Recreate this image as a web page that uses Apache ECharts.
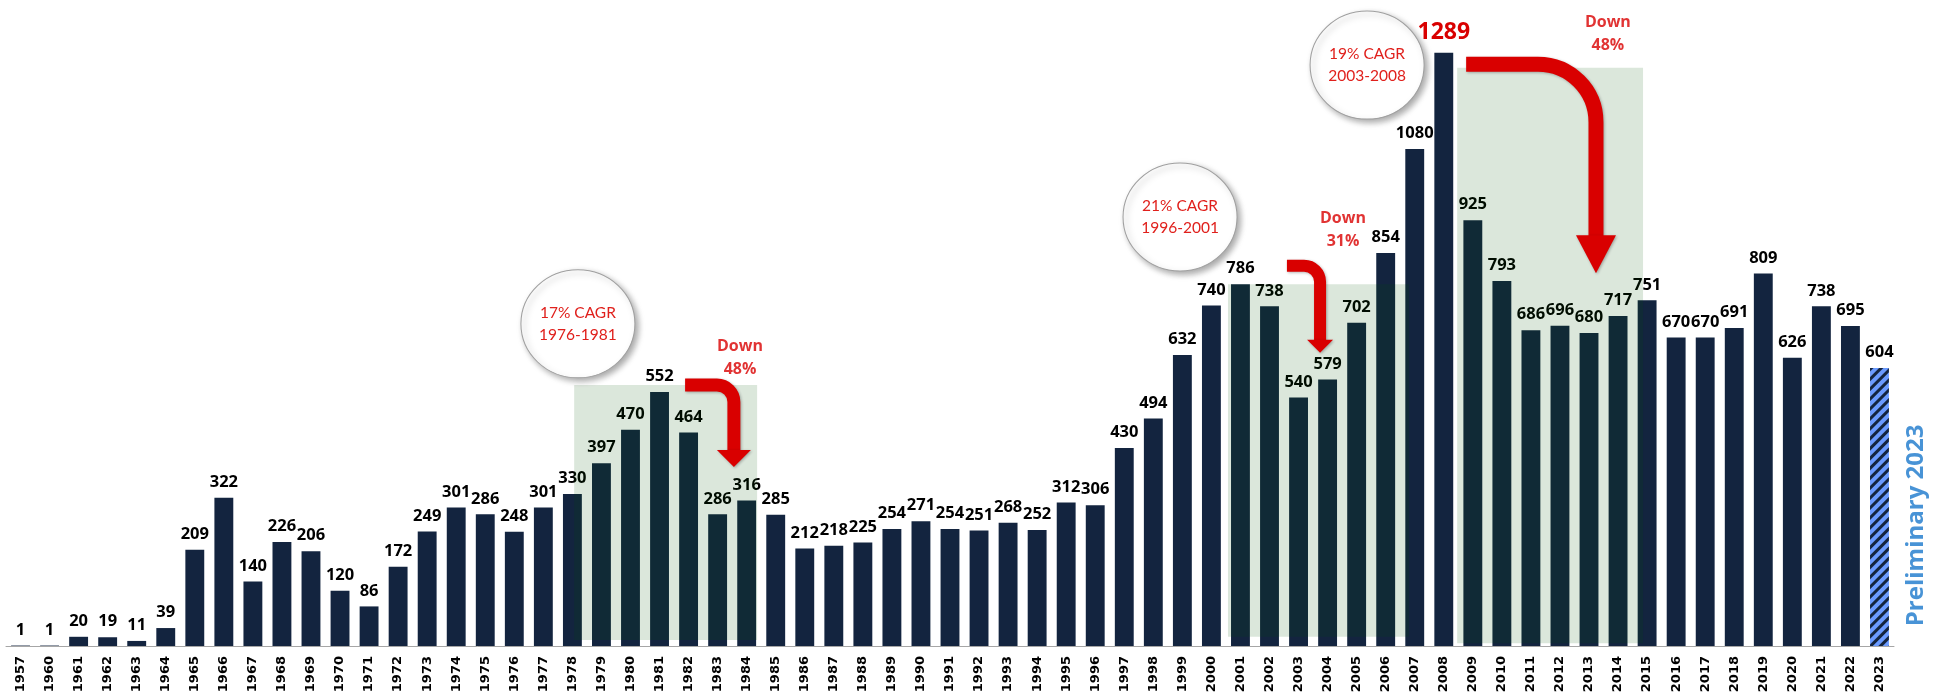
<!DOCTYPE html>
<html>
<head>
<meta charset="utf-8">
<script src="https://cdn.jsdelivr.net/npm/echarts@6/dist/echarts.min.js"></script>
<style>
  html, body { margin: 0; padding: 0; background: #fff; }
  #chart { width: 1944px; height: 700px; }
</style>
</head>
<body>
<div id="chart"></div>
<script>
// categories + counts
const years = ['1957', '1960', '1961', '1962', '1963', '1964', '1965', '1966', '1967', '1968',
  '1969', '1970', '1971', '1972', '1973', '1974', '1975', '1976', '1977', '1978',
  '1979', '1980', '1981', '1982', '1983', '1984', '1985', '1986', '1987', '1988',
  '1989', '1990', '1991', '1992', '1993', '1994', '1995', '1996', '1997', '1998',
  '1999', '2000', '2001', '2002', '2003', '2004', '2005', '2006', '2007', '2008',
  '2009', '2010', '2011', '2012', '2013', '2014', '2015', '2016', '2017', '2018',
  '2019', '2020', '2021', '2022', '2023'];
const counts = [1, 1, 20, 19, 11, 39, 209, 322, 140, 226,
  206, 120, 86, 172, 249, 301, 286, 248, 301, 330,
  397, 470, 552, 464, 286, 316, 285, 212, 218, 225,
  254, 271, 254, 251, 268, 252, 312, 306, 430, 494,
  632, 740, 786, 738, 540, 579, 702, 854, 1080, 1289,
  925, 793, 686, 696, 680, 717, 751, 670, 670, 691,
  809, 626, 738, 695, 604];
const peakYear = '2008';
const prelimYear = '2023';

// annotations, in (category units, value) on a helper axis
// [fromCat, toCat, low, high]
const shadeBands = [
  [19.56, 25.86, 13, 567],
  [42.07, 48.30, 20, 786],
  [49.96, 56.36, 6, 1256]
];
// [cat, value, line1, line2]
const cagrNotes = [
  [19.69, 700, '17% CAGR', '1976-1981'],
  [40.42, 932, '21% CAGR', '1996-2001'],
  [46.86, 1262, '19% CAGR', '2003-2008']
];
// [startCat, startValue, turnCat, tipValue]
const dropArrows = [
  [23.38, 567, 25.06, 389],
  [44.10, 826, 45.24, 637],
  [50.27, 1264, 54.74, 810]
];
// [cat, value, pct]
const dropNotes = [
  [25.27, 626, '48%'],
  [46.03, 904, '31%'],
  [55.15, 1329, '48%']
];
const arrowSizes = [
  { w: 13, r: 17, hw: 34, hl: 17 },
  { w: 12, r: 16, hw: 26, hl: 13 },
  { w: 15, r: 58, hw: 40, hl: 38 }
];

const RED = '#d90000';
const NAVY = '#13243f';

const chart = echarts.init(document.getElementById('chart'));

const barData = counts.map(function (v, i) {
  if (years[i] === peakYear) {
    return { value: v, label: { color: RED, fontSize: 23, distance: 9 } };
  }
  if (years[i] === prelimYear) {
    return {
      value: v,
      itemStyle: {
        color: '#6b9bff',
        decal: {
          symbol: 'rect',
          symbolSize: 1,
          dashArrayX: [1, 0],
          dashArrayY: [3, 4],
          rotation: -Math.PI / 4,
          color: NAVY
        }
      }
    };
  }
  return v;
});

const option = {
  animation: false,
  grid: { left: 6, right: 50, top: 20, bottom: 54 },
  xAxis: [
    {
      type: 'category',
      data: years,
      axisLine: { lineStyle: { color: '#a6a6a6' } },
      axisTick: { length: 5, lineStyle: { color: '#a6a6a6' } },
      axisLabel: {
        interval: 0,
        rotate: 90,
        margin: 10,
        color: '#000',
        fontFamily: 'DejaVu Sans',
        fontWeight: 'bold',
        fontSize: 13
      }
    },
    { type: 'value', min: 0, max: years.length, show: false }
  ],
  yAxis: { type: 'value', min: 0, max: 1360, show: false, splitLine: { show: false } },
  series: [
    {
      type: 'bar',
      data: barData,
      barCategoryGap: '35%',
      itemStyle: { color: NAVY },
      label: {
        show: true,
        position: 'top',
        distance: 7,
        color: '#000',
        fontFamily: 'Open Sans',
        fontWeight: 'bold',
        fontSize: 16.5
      },
      silent: true,
      z: 2
    },
    {
      type: 'custom',
      xAxisIndex: 1,
      data: shadeBands,
      silent: true,
      z: 3,
      renderItem: function (params, api) {
        const p0 = api.coord([api.value(0), api.value(3)]);
        const p1 = api.coord([api.value(1), api.value(2)]);
        return {
          type: 'rect',
          shape: { x: p0[0], y: p0[1], width: p1[0] - p0[0], height: p1[1] - p0[1] },
          style: { fill: 'rgba(0,85,0,0.14)' }
        };
      }
    },
    {
      type: 'custom',
      xAxisIndex: 1,
      data: dropArrows,
      silent: true,
      z: 4,
      renderItem: function (params, api) {
        const s = api.coord([api.value(0), api.value(1)]);
        const xv = api.coord([api.value(2), api.value(1)])[0];
        const tip = api.coord([api.value(2), api.value(3)]);
        const a = arrowSizes[params.dataIndex];
        const baseY = tip[1] - a.hl;
        const d = 'M' + s[0] + ' ' + s[1] +
          ' L' + (xv - a.r) + ' ' + s[1] +
          ' A' + a.r + ' ' + a.r + ' 0 0 1 ' + xv + ' ' + (s[1] + a.r) +
          ' L' + xv + ' ' + (baseY + 1);
        const shadow = { shadowBlur: 3, shadowOffsetX: 1, shadowOffsetY: 1, shadowColor: 'rgba(0,0,0,0.3)' };
        return {
          type: 'group',
          children: [
            {
              type: 'path',
              shape: { pathData: d },
              style: Object.assign({ fill: null, stroke: RED, lineWidth: a.w }, shadow)
            },
            {
              type: 'polygon',
              shape: { points: [[xv - a.hw / 2, baseY], [xv + a.hw / 2, baseY], tip] },
              style: Object.assign({ fill: RED }, shadow)
            }
          ]
        };
      }
    },
    {
      type: 'scatter',
      xAxisIndex: 1,
      data: cagrNotes,
      silent: true,
      clip: false,
      z: 5,
      symbol: 'circle',
      symbolSize: [114, 108],
      itemStyle: {
        color: '#fff',
        borderColor: '#a0a0a0',
        borderWidth: 1,
        shadowBlur: 6,
        shadowOffsetX: 3,
        shadowOffsetY: 3,
        shadowColor: 'rgba(0,0,0,0.35)',
        opacity: 1
      },
      label: {
        show: true,
        position: 'inside',
        color: '#e0201c',
        fontFamily: 'Lato',
        fontSize: 15.5,
        lineHeight: 22,
        formatter: function (p) { return p.data[2] + '\n' + p.data[3]; }
      }
    },
    {
      type: 'scatter',
      xAxisIndex: 1,
      data: dropNotes,
      silent: true,
      clip: false,
      z: 5,
      symbolSize: 0,
      label: {
        show: true,
        position: 'inside',
        color: RED,
        fontFamily: 'Open Sans',
        fontWeight: 'bold',
        fontSize: 16,
        lineHeight: 23,
        formatter: function (p) { return 'Down\n' + p.data[2]; }
      }
    },
    {
      type: 'scatter',
      xAxisIndex: 1,
      data: [[65.75, 262]],
      silent: true,
      clip: false,
      z: 5,
      symbolSize: 0,
      label: {
        show: true,
        position: 'inside',
        rotate: 90,
        color: '#1a78cc',
        fontFamily: 'Open Sans',
        fontWeight: 'bold',
        fontSize: 24,
        formatter: 'Preliminary 2023'
      }
    }
  ]
};

chart.setOption(option);
</script>
</body>
</html>
